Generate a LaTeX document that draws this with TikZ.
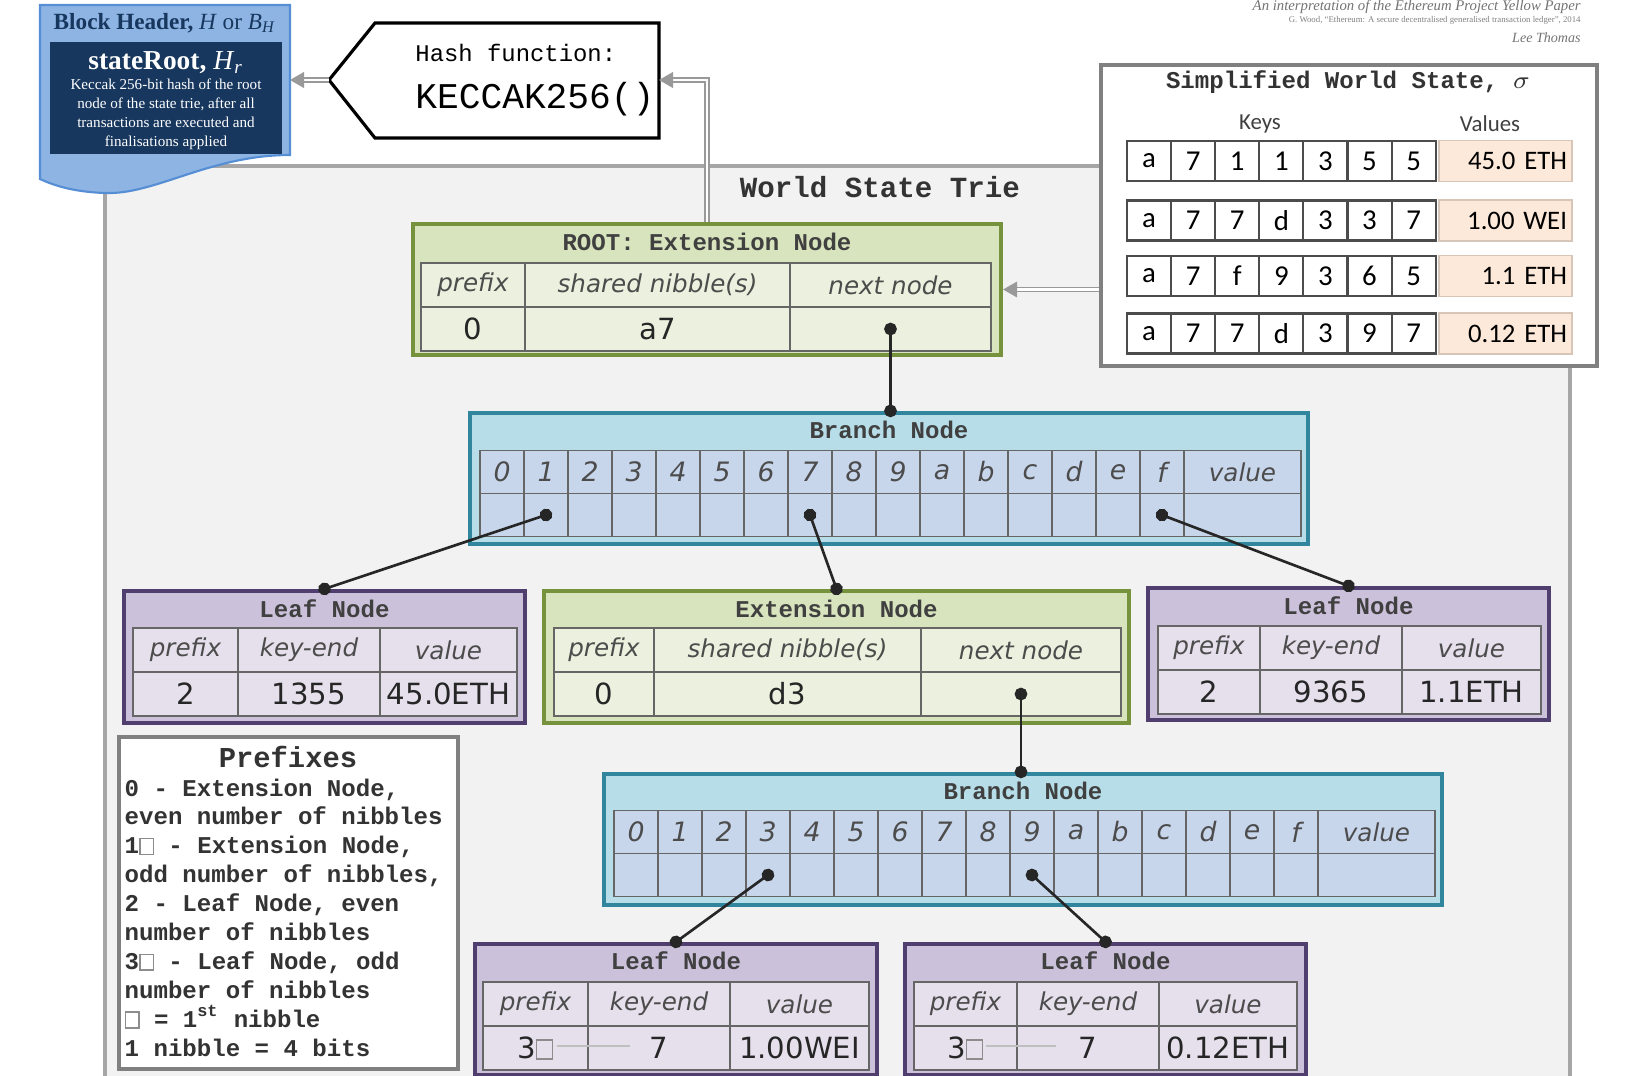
\documentclass[tikz,border=0pt]{standalone}
\usepackage{fontspec}
\usetikzlibrary{arrows.meta,positioning,calc}
\setmainfont{Liberation Serif}
\newfontfamily\courfont{Liberation Mono}
\newfontfamily\verdfont{DejaVu Sans}
\newfontfamily\calfont{Carlito}

\definecolor{extfill}{RGB}{215,228,189}
\definecolor{extline}{RGB}{118,146,60}
\definecolor{extcellc}{RGB}{235,241,222}
\definecolor{brfill}{RGB}{183,222,232}
\definecolor{brline}{RGB}{49,133,156}
\definecolor{brcellc}{RGB}{200,214,236}
\definecolor{leaffill}{RGB}{204,193,218}
\definecolor{leafline}{RGB}{80,62,110}
\definecolor{leafcellc}{RGB}{229,224,236}
\definecolor{hdrblue}{RGB}{141,180,226}
\definecolor{hdrline}{RGB}{85,142,213}
\definecolor{hdrdark}{RGB}{23,55,94}
\definecolor{framefill}{RGB}{242,242,242}
\definecolor{frameline}{RGB}{166,166,166}
\definecolor{wsval}{RGB}{253,233,217}

% small square for the first nibble
\newcommand\nib{{\color{black!45}\setlength\fboxsep{0pt}\setlength\fboxrule{0.4pt}\fbox{\rule{0pt}{0.6em}\hspace{0.5em}}}}

\begin{document}
\begin{tikzpicture}[
  box/.style={line width=1.2pt, inner sep=0pt},
  extbox/.style={box, draw=extline, fill=extfill},
  brbox/.style={box, draw=brline, fill=brfill},
  leafbox/.style={box, draw=leafline, fill=leaffill},
  boxtitle/.style={font=\courfont\bfseries\fontsize{6.85}{8}\selectfont, text=black!75},
  cell/.style={draw=black!60, line width=0.5pt, minimum height=0.44cm, inner sep=0pt},
  extcell/.style={cell, fill=extcellc},
  brcell/.style={cell, fill=brcellc, minimum height=0.43cm, minimum width=0.44cm},
  leafcell/.style={cell, fill=leafcellc},
  lbl/.style={font=\verdfont\itshape\fontsize{7}{8}\selectfont, text=black!70},
  digit/.style={font=\verdfont\itshape\fontsize{7.6}{9}\selectfont, text=black!70},
  val/.style={font=\verdfont\fontsize{8.3}{9}\selectfont, text=black!85},
  keycell/.style={draw=black!70, fill=white, line width=0.6pt, minimum width=0.441cm, minimum height=0.40cm, inner sep=0pt, font=\calfont\fontsize{8.2}{9}\selectfont},
  valcell/.style={fill=wsval, draw=wsval!85!black, minimum width=1.33cm, minimum height=0.40cm, text width=1.23cm, align=right, inner xsep=0.05cm, font=\calfont\fontsize{7.6}{9}\selectfont},
  pfx/.style={font=\courfont\bfseries\fontsize{6.85}{8}\selectfont, text=black!80, anchor=base west, inner sep=0pt},
  frame/.style={draw=frameline, fill=framefill, line width=1.1pt},
  ptr/.style={line width=0.75pt, black!85, {Circle[length=3.6pt,sep=-1.8pt]}-{Circle[length=3.6pt,sep=-1.8pt]}},
  dbl/.style={draw=black!40, double=white, double distance=0.7pt, line width=0.4pt, -{Triangle[length=4pt,width=4.5pt]}},
]
\useasboundingbox (0,0) rectangle (16.47,-10.76);

% source lines, top right
\node[anchor=east, font=\itshape\fontsize{4.2}{5}\selectfont, text=black!55] (cite1) at (15.93,-0.07) {An interpretation of the Ethereum Project Yellow Paper};
\node[anchor=east, font=\fontsize{2.5}{3}\selectfont, text=black!50] (cite2) at (15.93,-0.20) {G. Wood, ``Ethereum: A secure decentralised generalised transaction ledger'', 2014};
\node[anchor=east, font=\itshape\fontsize{4}{5}\selectfont, text=black!55] (cite3) at (15.93,-0.38) {Lee Thomas};

% trie frame
\draw[frame] (1.05,-1.66) rectangle (15.70,-11.20);
\node[font=\courfont\bfseries\fontsize{8.3}{10}\selectfont, text=black!80] (trie) at (8.80,-1.87) {World State Trie};

% block header
\draw[draw=hdrline, fill=hdrblue, line width=0.6pt] (0.40,-0.05) -- (2.90,-0.05) -- (2.90,-1.55)
  .. controls (2.10,-1.55) and (1.55,-1.95) .. (1.05,-1.93)
  .. controls (0.75,-1.92) and (0.55,-1.86) .. (0.40,-1.79) -- cycle;
\fill[hdrdark] (0.50,-0.42) rectangle (2.82,-1.54);
\node[font=\fontsize{6.6}{8}\selectfont, text=hdrdark] (hdrtitle) at (1.65,-0.23) {\textbf{Block Header,} \textit{H} or \textit{B}\textsubscript{\textit{H}}};
\node[font=\fontsize{7.8}{9}\selectfont, text=white] (stroot) at (1.66,-0.63) {\textbf{stateRoot,} \textit{H}\textsubscript{\textit{r}}};
\node[font=\fontsize{4.3}{5.4}\selectfont, text=white, align=center] (strootdesc) at (1.66,-1.14) {Keccak 256-bit hash of the root\\node of the state trie, after all\\transactions are executed and\\finalisations applied};
\coordinate (hdr-e) at (2.90,-0.80);

% hash function
\draw[line width=0.9pt, fill=white] (3.29,-0.80) -- (3.75,-0.23) -- (6.59,-0.23) -- (6.59,-1.38) -- (3.75,-1.38) -- cycle;
\coordinate (hash-tip) at (3.29,-0.80);
\coordinate (hash-e) at (6.59,-0.80);
\node[anchor=west, font=\courfont\fontsize{6.8}{8}\selectfont] (hashlbl) at (4.03,-0.53) {Hash function:};
\node[anchor=west, font=\courfont\fontsize{10.3}{12}\selectfont] (hashfn) at (4.03,-0.99) {KECCAK256()};

% simplified world state
\node[draw=black!50, fill=white, line width=0.9pt, minimum width=4.96cm, minimum height=3.01cm] (ws) at (13.49,-2.155) {};
\node[font=\courfont\bfseries\fontsize{6.85}{8}\selectfont, text=black!80] (wstitle) at (13.48,-0.82) {Simplified World State, $\sigma$};
\node[font=\calfont\fontsize{6.5}{8}\selectfont, text=black!75] (keys) at (12.60,-1.24) {Keys};
\node[font=\calfont\fontsize{6.5}{8}\selectfont, text=black!75] (vals) at (14.90,-1.24) {Values};
\foreach \y/\v/\ks [count=\r] in {-1.61/45.0 ETH/{a,7,1,1,3,5,5}, -2.205/1.00 WEI/{a,7,7,d,3,3,7}, -2.76/1.1 ETH/{a,7,f,9,3,6,5}, -3.335/0.12 ETH/{a,7,7,d,3,9,7}} {
  \foreach \c [count=\i from 0] in \ks
    \node[keycell] (key\r-\i) at ({11.4905+0.441*\i},\y) {\c};
  \node[valcell] (val\r) at (15.055,\y) {\v};
}

% root extension node
\node[extbox, minimum width=5.88cm, minimum height=1.31cm] (root) at (7.07,-2.895) {};
\node[boxtitle] (root-t) at (7.07,-2.42) {ROOT: Extension Node};
\foreach \n/\x/\w/\h/\v in {p/4.73/1.04cm/prefix/0, s/6.575/2.65cm/shared nibble(s)/a7, n/8.905/2.01cm/next node/{}} {
  \node[extcell, lbl, minimum width=\w] (root-\n-h) at (\x,-2.85) {\h};
  \node[extcell, val, minimum width=\w] (root-\n-v) at (\x,-3.29) {\v};
}

% first branch node
\node[brbox, minimum width=8.38cm, minimum height=1.31cm] (br1) at (8.89,-4.785) {};
\node[boxtitle] (br1-t) at (8.89,-4.30) {Branch Node};
\foreach \d [count=\i from 0] in {0,1,2,3,4,5,6,7,8,9,a,b,c,d,e,f} {
  \node[brcell, digit] (br1-\d-h) at ({5.02+0.44*\i},-4.72) {\d};
  \node[brcell] (br1-\d) at ({5.02+0.44*\i},-5.15) {};
}
\node[brcell, lbl, minimum width=1.17cm] (br1-v-h) at (12.425,-4.72) {value};
\node[brcell, minimum width=1.17cm] (br1-v) at (12.425,-5.15) {};

% leaf, extension, leaf
\node[leafbox, minimum width=4.01cm, minimum height=1.32cm] (leafA) at (3.245,-6.57) {};
\node[boxtitle] (leafA-t) at (3.245,-6.09) {Leaf Node};
\foreach \n/\x/\w/\h/\v in {p/1.855/1.05cm/prefix/2, k/3.09/1.42cm/key-end/1355, v/4.485/1.37cm/value/45.0ETH} {
  \node[leafcell, lbl, minimum width=\w] (leafA-\n-h) at (\x,-6.50) {\h};
  \node[leafcell, val, minimum width=\w] (leafA-\n-v) at (\x,-6.94) {\v};
}

\node[extbox, minimum width=5.85cm, minimum height=1.32cm] (ext) at (8.365,-6.57) {};
\node[boxtitle] (ext-t) at (8.365,-6.09) {Extension Node};
\foreach \n/\x/\w/\h/\v in {p/6.04/1.00cm/prefix/0, s/7.875/2.67cm/shared nibble(s)/d3, n/10.21/2.00cm/next node/{}} {
  \node[extcell, lbl, minimum width=\w] (ext-\n-h) at (\x,-6.50) {\h};
  \node[extcell, val, minimum width=\w] (ext-\n-v) at (\x,-6.94) {\v};
}

\node[leafbox, minimum width=4.01cm, minimum height=1.32cm] (leafB) at (13.485,-6.54) {};
\node[boxtitle] (leafB-t) at (13.485,-6.06) {Leaf Node};
\foreach \n/\x/\w/\h/\v in {p/12.09/1.02cm/prefix/2, k/13.31/1.42cm/key-end/9365, v/14.715/1.39cm/value/1.1ETH} {
  \node[leafcell, lbl, minimum width=\w] (leafB-\n-h) at (\x,-6.48) {\h};
  \node[leafcell, val, minimum width=\w] (leafB-\n-v) at (\x,-6.92) {\v};
}

% prefixes key
\node[draw=black!50, fill=white, line width=0.9pt, minimum width=3.39cm, minimum height=3.32cm] (pref) at (2.885,-9.03) {};
\node[font=\courfont\bfseries\fontsize{8.2}{10}\selectfont, text=black!80] (pref-t) at (2.88,-7.57) {Prefixes};
\foreach \t [count=\i from 0] in {{0 - Extension Node,}, {even number of nibbles}, {1\nib{} - Extension Node,}, {odd number of nibbles,}, {2 - Leaf Node, even}, {number of nibbles}, {3\nib{} - Leaf Node, odd}, {number of nibbles}, {\nib{} = 1\textsuperscript{st} nibble}, {1 nibble = 4 bits}}
  \node[pfx] (pfx-\i) at (1.24,{-7.96-0.289*\i}) {\t};

% second branch node
\node[brbox, minimum width=8.38cm, minimum height=1.31cm] (br2) at (10.23,-8.395) {};
\node[boxtitle] (br2-t) at (10.23,-7.91) {Branch Node};
\foreach \d [count=\i from 0] in {0,1,2,3,4,5,6,7,8,9,a,b,c,d,e,f} {
  \node[brcell, digit] (br2-\d-h) at ({6.36+0.44*\i},-8.32) {\d};
  \node[brcell] (br2-\d) at ({6.36+0.44*\i},-8.75) {};
}
\node[brcell, lbl, minimum width=1.17cm] (br2-v-h) at (13.765,-8.32) {value};
\node[brcell, minimum width=1.17cm] (br2-v) at (13.765,-8.75) {};

% bottom leaves
\node[leafbox, minimum width=4.02cm, minimum height=1.31cm] (leafC) at (6.76,-10.095) {};
\node[boxtitle] (leafC-t) at (6.76,-9.61) {Leaf Node};
\foreach \n/\x/\w/\h/\v in {p/5.355/1.05cm/prefix/3\nib, k/6.59/1.42cm/key-end/7, v/7.995/1.39cm/value/1.00WEI} {
  \node[leafcell, lbl, minimum width=\w] (leafC-\n-h) at (\x,-10.04) {\h};
  \node[leafcell, val, minimum width=\w] (leafC-\n-v) at (\x,-10.48) {\v};
}
\node[leafbox, minimum width=4.01cm, minimum height=1.31cm] (leafD) at (11.055,-10.095) {};
\node[boxtitle] (leafD-t) at (11.055,-9.61) {Leaf Node};
\foreach \n/\x/\w/\h/\v in {p/9.655/1.03cm/prefix/3\nib, k/10.88/1.42cm/key-end/7, v/12.28/1.38cm/value/0.12ETH} {
  \node[leafcell, lbl, minimum width=\w] (leafD-\n-h) at (\x,-10.04) {\h};
  \node[leafcell, val, minimum width=\w] (leafD-\n-v) at (\x,-10.48) {\v};
}
\draw[black!25, line width=0.4pt] (5.57,-10.46) -- (6.30,-10.46);
\draw[black!25, line width=0.4pt] (9.86,-10.46) -- (10.56,-10.46);

% hashing and lookup arrows
\draw[dbl] (hash-tip) -- (hdr-e);
\draw[dbl] (root.north) |- (hash-e);
\draw[dbl] (ws.west |- root.east) -- (root.east);

% pointers
\draw[ptr] (root-n-v.center) -- (root-n-v.center |- br1.north);
\draw[ptr] (br1-1.center) -- (leafA.north);
\draw[ptr] (br1-7.center) -- (ext.north);
\draw[ptr] (br1-f.center) -- (leafB.north);
\draw[ptr] (ext-n-v.center) -- (ext-n-v.center |- br2.north);
\draw[ptr] (br2-3.center) -- (leafC.north);
\draw[ptr] (br2-9.center) -- (leafD.north);
\end{tikzpicture}
\end{document}
